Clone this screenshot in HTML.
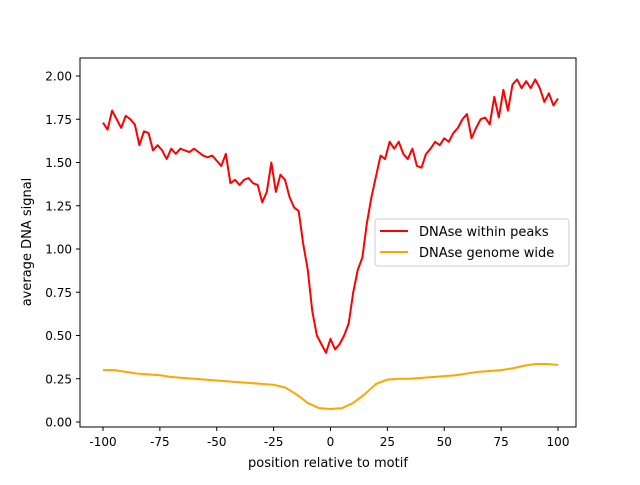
<!DOCTYPE html>
<html><head><meta charset="utf-8"><style>
body{margin:0;background:#fff;}
svg text{font-family:"DejaVu Sans","Liberation Sans",sans-serif;fill:#000;}
</style></head><body>
<svg id="chart" width="640" height="480" xmlns="http://www.w3.org/2000/svg">
<rect width="640" height="480" fill="#fff"/>
<g id="marks"></g>
<g id="axes"></g>
<rect x="80" y="58" width="496" height="369" fill="none" stroke="#000" stroke-width="1"/>
<text x="328" y="467" font-size="13" text-anchor="middle">position relative to motif</text>
<text x="31" y="242" font-size="13" text-anchor="middle" transform="rotate(-90 31 242)">average DNA signal</text>
<g>
<rect x="375" y="219" width="194" height="47" rx="3" fill="#fff" fill-opacity="0.8" stroke="#ccc"/>
<line x1="380" y1="231" x2="408" y2="231" stroke="red" stroke-width="2"/>
<text x="419" y="236" font-size="13">DNAse within peaks</text>
<line x1="380" y1="252" x2="408" y2="252" stroke="orange" stroke-width="2"/>
<text x="419" y="257" font-size="13">DNAse genome wide</text>
</g>
</svg>
<script>
const redX=[];for(let i=-100;i<=100;i+=2)redX.push(i);
const redY=[1.73,1.69,1.80,1.75,1.70,1.77,1.75,1.72,1.60,1.68,1.67,1.57,1.60,1.57,1.52,1.58,1.55,1.58,1.57,1.56,1.58,1.56,1.54,1.53,1.54,1.51,1.48,1.55,1.38,1.40,1.37,1.40,1.41,1.38,1.37,1.27,1.33,1.50,1.33,1.43,1.40,1.30,1.24,1.22,1.03,0.88,0.64,0.50,0.45,0.40,0.48,0.42,0.45,0.50,0.57,0.75,0.88,0.95,1.15,1.30,1.42,1.54,1.52,1.62,1.58,1.62,1.55,1.52,1.58,1.48,1.47,1.55,1.58,1.62,1.60,1.64,1.62,1.67,1.70,1.75,1.78,1.64,1.70,1.75,1.76,1.72,1.88,1.76,1.92,1.80,1.95,1.98,1.93,1.97,1.93,1.98,1.93,1.85,1.90,1.83,1.87];
const orX=[];for(let i=-100;i<=100;i+=5)orX.push(i);
const orY=[0.30,0.30,0.29,0.28,0.275,0.27,0.26,0.255,0.25,0.245,0.24,0.235,0.23,0.225,0.22,0.215,0.20,0.16,0.11,0.08,0.075,0.08,0.11,0.16,0.22,0.245,0.25,0.25,0.255,0.26,0.265,0.27,0.28,0.29,0.295,0.30,0.31,0.325,0.335,0.335,0.33];
const xTicks=[-100,-75,-50,-25,0,25,50,75,100];
const yTicks=[0,0.25,0.5,0.75,1.0,1.25,1.5,1.75,2.0];
const NS="http://www.w3.org/2000/svg";
function sx(v){return 103+(v+100)*2.275;}
function sy(v){return 422-v*173;}
const marks=document.getElementById('marks'),axes=document.getElementById('axes');
function line(xs,ys,color,name){
 const p=document.createElementNS(NS,'polyline');
 p.setAttribute('points',xs.map((x,i)=>sx(x)+','+sy(ys[i])).join(' '));
 p.setAttribute('fill','none');p.setAttribute('stroke',color);p.setAttribute('stroke-width','2');
 p.setAttribute('stroke-linejoin','round');
 
 
 marks.appendChild(p);
}
line(orX,orY,'orange','series-genome-wide');
line(redX,redY,'red','series-within-peaks');
xTicks.forEach(t=>{
 const l=document.createElementNS(NS,'line');
 l.setAttribute('x1',sx(t));l.setAttribute('x2',sx(t));l.setAttribute('y1',427);l.setAttribute('y2',431);l.setAttribute('stroke','#000');
 
 
 axes.appendChild(l);
 const tx=document.createElementNS(NS,'text');
 tx.setAttribute('x',sx(t));tx.setAttribute('y',446);tx.setAttribute('font-size','12');tx.setAttribute('text-anchor','middle');
 tx.textContent=t;
 
 
 axes.appendChild(tx);
});
yTicks.forEach(t=>{
 const l=document.createElementNS(NS,'line');
 l.setAttribute('x1',76);l.setAttribute('x2',80);l.setAttribute('y1',sy(t));l.setAttribute('y2',sy(t));l.setAttribute('stroke','#000');
 
 
 axes.appendChild(l);
 const tx=document.createElementNS(NS,'text');
 tx.setAttribute('x',72);tx.setAttribute('y',sy(t)+4.5);tx.setAttribute('font-size','12');tx.setAttribute('text-anchor','end');
 tx.textContent=t.toFixed(2);
 
 
 axes.appendChild(tx);
});
</script>
</body></html>
